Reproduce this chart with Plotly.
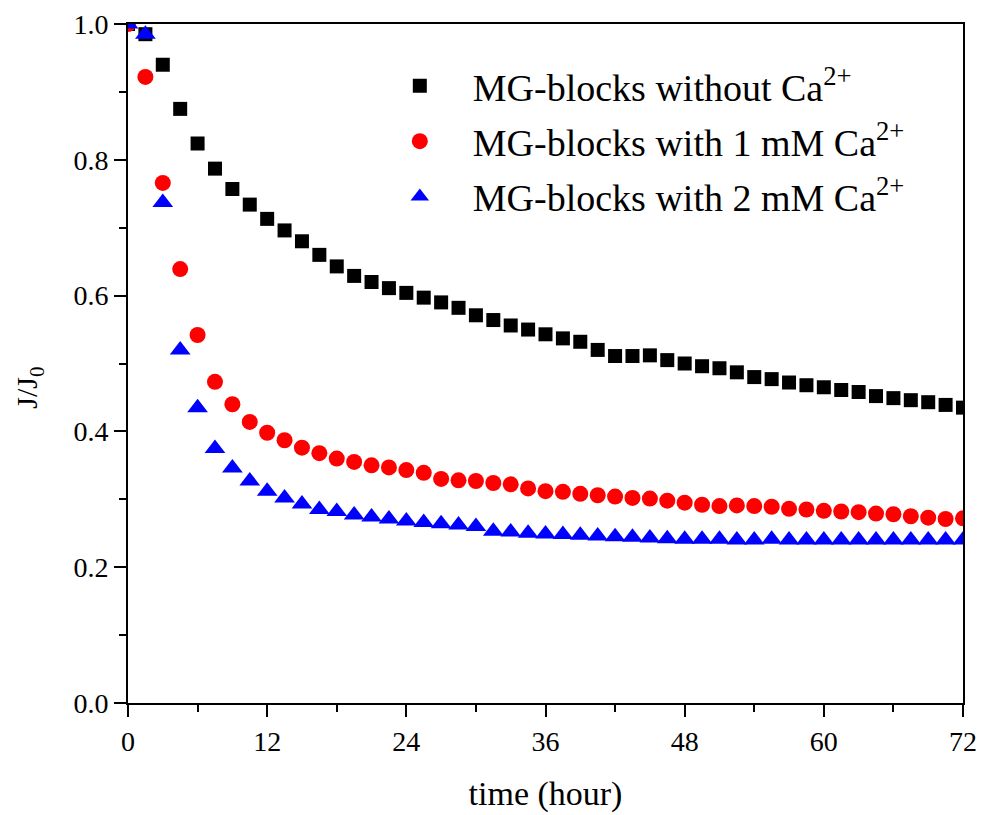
import plotly.graph_objects as go

time_h = [i * 1.5 for i in range(49)]

without_ca = [1.000, 0.985, 0.940, 0.875, 0.824, 0.787, 0.757, 0.734, 0.713, 0.696,
              0.680, 0.660, 0.643, 0.629, 0.620, 0.611, 0.604, 0.597, 0.590, 0.582,
              0.571, 0.564, 0.556, 0.550, 0.543, 0.537, 0.532, 0.520, 0.511, 0.511,
              0.512, 0.505, 0.500, 0.496, 0.493, 0.487, 0.480, 0.477, 0.472, 0.468,
              0.465, 0.461, 0.458, 0.452, 0.449, 0.446, 0.443, 0.439, 0.435]

with_1mM = [1.000, 0.922, 0.766, 0.639, 0.542, 0.473, 0.440, 0.414, 0.398, 0.387,
            0.376, 0.368, 0.360, 0.355, 0.350, 0.347, 0.343, 0.339, 0.330, 0.328,
            0.327, 0.324, 0.322, 0.316, 0.312, 0.311, 0.308, 0.306, 0.304, 0.302,
            0.301, 0.298, 0.295, 0.292, 0.290, 0.291, 0.290, 0.289, 0.286, 0.285,
            0.283, 0.282, 0.281, 0.279, 0.278, 0.275, 0.273, 0.271, 0.272]

with_2mM = [1.000, 0.985, 0.737, 0.520, 0.435, 0.375, 0.346, 0.327, 0.312, 0.302,
            0.293, 0.285, 0.282, 0.277, 0.274, 0.271, 0.268, 0.266, 0.264, 0.262,
            0.260, 0.253, 0.252, 0.250, 0.249, 0.248, 0.247, 0.246, 0.245, 0.244,
            0.243, 0.242, 0.241, 0.241, 0.241, 0.240, 0.240, 0.241, 0.240, 0.240,
            0.240, 0.240, 0.240, 0.240, 0.240, 0.240, 0.240, 0.240, 0.240]

names = ["MG-blocks without Ca<sup>2+</sup>",
         "MG-blocks with 1 mM Ca<sup>2+</sup>",
         "MG-blocks with 2 mM Ca<sup>2+</sup>"]

x_ticks = [0, 12, 24, 36, 48, 60, 72]
y_ticks = [0.0, 0.2, 0.4, 0.6, 0.8, 1.0]

FONT = "Liberation Serif, Times New Roman, serif"

fig = go.Figure()
fig.add_trace(go.Scatter(x=time_h, y=without_ca, mode="markers", name=names[0],
                         legendgroup="g1",
                         marker=dict(symbol="square", size=14, color="black")))
fig.add_trace(go.Scatter(x=time_h, y=with_1mM, mode="markers", name=names[1],
                         legendgroup="g2",
                         marker=dict(symbol="circle", size=16, color="#ff0000")))
fig.add_trace(go.Scatter(x=time_h, y=with_2mM, mode="markers", name=names[2],
                         legendgroup="g3",
                         marker=dict(symbol="triangle-up", size=18, color="#0000ff")))

axis_common = dict(showline=True, linecolor="black", linewidth=2, mirror=True,
                   ticks="outside", ticklen=12, tickwidth=2, tickcolor="black",
                   showgrid=False, zeroline=False, automargin=False,
                   tickfont=dict(family=FONT, size=28, color="black"))

fig.update_xaxes(range=[0, 72], tickvals=x_ticks, ticktext=[str(v) for v in x_ticks],
                 minor=dict(dtick=6, tick0=0, ticks="outside", ticklen=7, tickwidth=2,
                            tickcolor="black", showgrid=False),
                 title=dict(text="time (hour)", font=dict(family=FONT, size=34, color="black"),
                            standoff=26),
                 **axis_common)
fig.update_yaxes(range=[0, 1], tickvals=y_ticks, ticktext=[f"{v:.1f}" for v in y_ticks],
                 minor=dict(dtick=0.1, tick0=0, ticks="outside", ticklen=7, tickwidth=2,
                            tickcolor="black", showgrid=False),
                 **axis_common)

fig.add_annotation(text="J/J<sub>0</sub>", xref="paper", yref="paper",
                   x=-0.118, y=0.465, xanchor="center", yanchor="middle",
                   textangle=-90, showarrow=False,
                   font=dict(family=FONT, size=30, color="black"))

fig.update_layout(
    width=982, height=815,
    margin=dict(l=128, r=19, t=24, b=112),
    plot_bgcolor="white", paper_bgcolor="white",
    font=dict(family=FONT, color="black"),
    legend=dict(x=0.286, y=0.955, xanchor="left", yanchor="top",
                bgcolor="rgba(0,0,0,0)", borderwidth=0,
                font=dict(family=FONT, size=38, color="black"),
                itemwidth=96, tracegroupgap=3),
    showlegend=True,
)

fig.write_html("out.html")
